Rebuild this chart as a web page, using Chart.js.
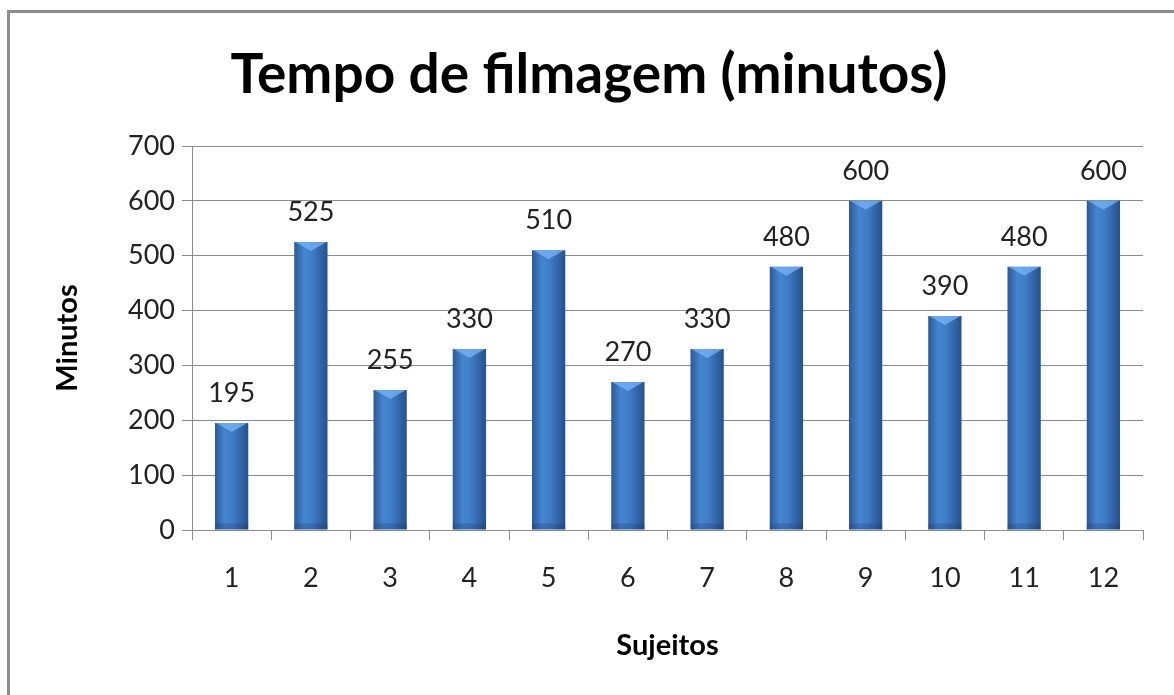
<!DOCTYPE html>
<html>
<head>
<meta charset="utf-8">
<script src="https://cdn.jsdelivr.net/npm/chart.js@4"></script>
<style>
  html, body { margin: 0; padding: 0; background: #fff; overflow: hidden; }
  #frame {
    position: absolute; left: 7px; top: 10px;
    width: 1180px; height: 700px;
    border-left: 3px solid #8c8c8c; border-top: 3px solid #8c8c8c;
  }
  #wrap { position: absolute; left: 10px; top: 13px; width: 1164px; height: 682px; }
</style>
</head>
<body>
<div id="frame"></div>
<div id="wrap"><canvas id="chart"></canvas></div>
<script>
const sujeitos = ["1", "2", "3", "4", "5", "6", "7", "8", "9", "10", "11", "12"];
const minutos = [195, 525, 255, 330, 510, 270, 330, 480, 600, 390, 480, 600];
const yTicks = [0, 100, 200, 300, 400, 500, 600, 700];

const FONT = "Lato, 'Open Sans', sans-serif";

// horizontal gradient for each bar, like the old office 3d look
function barFill(context) {
  const chart = context.chart;
  const x = chart.scales.x;
  if (!x || !chart.chartArea) return "#3a78c2";
  const cx = x.getPixelForValue(context.dataIndex);
  const half = (x.width / sujeitos.length) * 0.42 / 2;
  const g = chart.ctx.createLinearGradient(cx - half, 0, cx + half, 0);
  g.addColorStop(0, "#2b5a98");
  g.addColorStop(0.3, "#4585d0");
  g.addColorStop(0.55, "#3f7cc6");
  g.addColorStop(1, "#25518c");
  return g;
}

// value labels above bars + small light bevel on the top
const barExtras = {
  id: "barExtras",
  afterDatasetsDraw(chart) {
    const ctx = chart.ctx;
    const meta = chart.getDatasetMeta(0);
    ctx.save();
    meta.data.forEach((bar, i) => {
      const w = bar.width;
      const left = bar.x - w / 2;
      ctx.fillStyle = "rgba(120,180,250,0.75)";
      ctx.beginPath();
      ctx.moveTo(left + 1, bar.y);
      ctx.lineTo(left + w - 1, bar.y);
      ctx.lineTo(bar.x, bar.y + 9);
      ctx.closePath();
      ctx.fill();
      ctx.fillStyle = "rgba(20,50,100,0.25)";
      ctx.fillRect(left, bar.base - 6, w, 6);

      ctx.fillStyle = "#222";
      ctx.font = "27px " + FONT;
      ctx.textAlign = "center";
      ctx.textBaseline = "bottom";
      ctx.fillText(String(minutos[i]), bar.x, bar.y - 16);
    });
    ctx.restore();
  }
};

new Chart(document.getElementById("chart"), {
  type: "bar",
  data: {
    labels: sujeitos,
    datasets: [{
      data: minutos,
      backgroundColor: barFill,
      borderWidth: 0,
      barPercentage: 0.42,
      categoryPercentage: 1
    }]
  },
  options: {
    responsive: true,
    maintainAspectRatio: false,
    animation: false,
    layout: { padding: { left: 0, right: 6, top: 0, bottom: 0 } },
    plugins: {
      legend: { display: false },
      tooltip: { enabled: false },
      title: {
        display: true,
        text: "Tempo de filmagem (minutos)",
        color: "#000",
        font: { family: FONT, size: 55, weight: "bold" },
        padding: { top: 29, bottom: 38 }
      }
    },
    scales: {
      x: {
        grid: { display: true, drawOnChartArea: false, drawTicks: true, tickLength: 10, color: "#8c8c8c" },
        border: { color: "#8c8c8c" },
        ticks: { color: "#222", font: { family: FONT, size: 27 }, padding: 22 },
        title: {
          display: true, text: "Sujeitos", color: "#000",
          font: { family: FONT, size: 29, weight: "bold" },
          padding: { top: 0, bottom: 32 }
        },
        afterFit(scale) { scale.height = 165; }
      },
      y: {
        min: 0, max: 700,
        afterBuildTicks(scale) { scale.ticks = yTicks.map(v => ({ value: v })); },
        grid: { color: "#8c8c8c", tickLength: 10 },
        border: { color: "#8c8c8c" },
        ticks: { color: "#222", font: { family: FONT, size: 27 }, padding: 7 },
        title: {
          display: true, text: "Minutos", color: "#000",
          font: { family: FONT, size: 29, weight: "bold" },
          padding: { top: 40, bottom: 0 }
        },
        afterFit(scale) { scale.width = 182; }
      },
      // empty space on the right so the title stays centred on the whole frame
      spacer: {
        type: "linear",
        position: "right",
        min: 0, max: 1,
        grid: { display: false },
        border: { display: false },
        ticks: { display: false },
        afterFit(scale) { scale.width = 25; }
      }
    }
  },
  plugins: [barExtras]
});
</script>
</body>
</html>
